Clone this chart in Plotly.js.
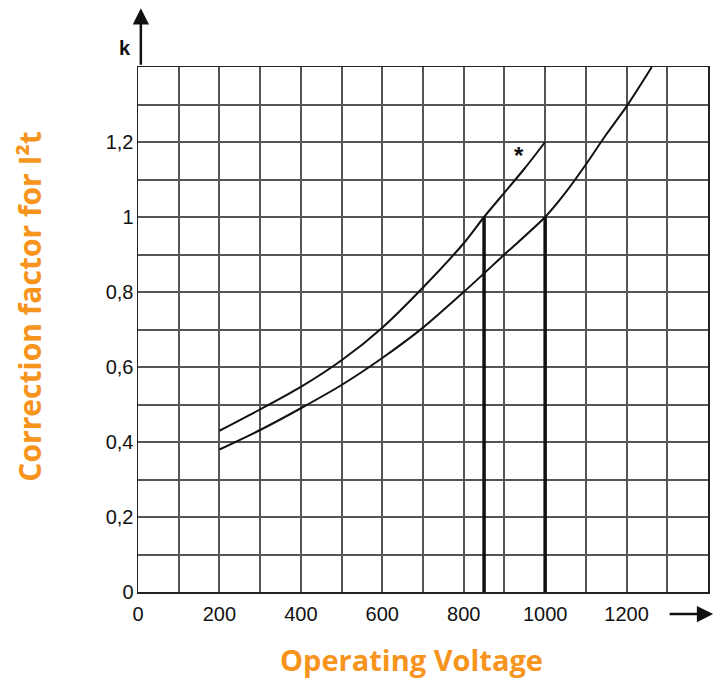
<!DOCTYPE html>
<html>
<head>
<meta charset="utf-8">
<script src="https://cdn.plot.ly/plotly-3.0.1.min.js"></script>
<style>html,body{margin:0;padding:0;background:#fff;}#chart{width:718px;height:679px;}</style>
</head>
<body>
<div id="chart"></div>
<script>
// Curve marked "*" (upper)
const voltageStar = [200, 300, 400, 500, 600, 700, 800, 850, 900, 950, 1000];
const kStar = [0.43, 0.487, 0.547, 0.618, 0.705, 0.812, 0.93, 1.0, 1.065, 1.13, 1.2];
// Lower curve
const voltageStd = [200, 300, 400, 500, 600, 700, 800, 900, 1000, 1050, 1100, 1150, 1200, 1262];
const kStd = [0.38, 0.432, 0.49, 0.552, 0.624, 0.705, 0.80, 0.90, 1.0, 1.065, 1.14, 1.22, 1.295, 1.40];
// Reference (thick) verticals at k = 1
const refVoltages = [850, 1000];
const refK = 1.0;

const xTickVals = [0,100,200,300,400,500,600,700,800,900,1000,1100,1200,1300];
const xTickText = ['0','','200','','400','','600','','800','','1000','','1200',''];
const yTickVals = [0,0.1,0.2,0.3,0.4,0.5,0.6,0.7,0.8,0.9,1.0,1.1,1.2,1.3];
const yTickText = ['0','','0,2','','0,4','','0,6','','0,8','','1','','1,2',''];

const xTitle = 'Operating Voltage';
const yTitle = 'Correction factor for I²t';

const traces = [
  {x: voltageStar, y: kStar, mode: 'lines', line: {color: '#111', width: 2, shape: 'spline', smoothing: 0.8}, hoverinfo: 'skip'},
  {x: voltageStd, y: kStd, mode: 'lines', line: {color: '#111', width: 2, shape: 'spline', smoothing: 0.8}, hoverinfo: 'skip'}
];
refVoltages.forEach(v => {
  traces.push({x: [v, v], y: [0, refK], mode: 'lines', line: {color: '#111', width: 3.5}, hoverinfo: 'skip'});
});

const tickFont = {family: 'Liberation Sans, Arial, sans-serif', size: 20, color: '#111'};
const titleFamily = '"Open Sans", "DejaVu Sans", sans-serif';
const titleFont = {family: titleFamily, size: 29, color: '#F7941D', weight: 'bold'};

const layout = {
  width: 718, height: 679,
  margin: {l: 138, r: 10, t: 67, b: 87},
  paper_bgcolor: '#fff', plot_bgcolor: '#fff',
  showlegend: false,
  xaxis: {
    range: [0, 1400], tickvals: xTickVals, ticktext: xTickText,
    showgrid: true, gridcolor: '#555', gridwidth: 2,
    showline: true, linecolor: '#222', linewidth: 1.5, mirror: true,
    zeroline: false, ticks: '', tickfont: tickFont, ticklabelstandoff: 3
  },
  yaxis: {
    range: [0, 1.4], tickvals: yTickVals, ticktext: yTickText,
    showgrid: true, gridcolor: '#555', gridwidth: 2,
    showline: true, linecolor: '#222', linewidth: 1.5, mirror: true,
    zeroline: false, ticks: '', tickfont: tickFont, ticklabelstandoff: -1
  },
  annotations: [
    {xref: 'paper', yref: 'paper', x: -0.19, y: 0.543, xanchor: 'center', yanchor: 'middle', textangle: -90,
     showarrow: false, text: yTitle, font: Object.assign({}, titleFont, {size: 30})},
    {xref: 'paper', yref: 'paper', x: 0.479, y: -0.1295, xanchor: 'center', yanchor: 'middle',
     showarrow: false, text: xTitle, font: titleFont},
    {xref: 'paper', yref: 'paper', x: 0.005, y: 1.112, ax: 0, ay: 58, showarrow: true,
     arrowhead: 2, arrowsize: 1.3, arrowwidth: 2.5, arrowcolor: '#111', text: ''},
    {xref: 'paper', yref: 'paper', x: -0.008, y: 1.036, xanchor: 'right', yanchor: 'middle', showarrow: false,
     text: '<b>k</b>', font: {family: 'Liberation Sans, Arial, sans-serif', size: 20, color: '#111'}},
    {xref: 'paper', yref: 'paper', x: 1.009, y: -0.042, ax: -45, ay: 0, showarrow: true,
     arrowhead: 2, arrowsize: 1.3, arrowwidth: 2.5, arrowcolor: '#111', text: ''},
    {xref: 'x', yref: 'y', x: 935, y: 1.165, showarrow: false, text: '<b>*</b>',
     font: {family: 'Liberation Sans, Arial, sans-serif', size: 24, color: '#111'}}
  ]
};

Plotly.newPlot('chart', traces, layout, {staticPlot: true, displayModeBar: false});
</script>
</body>
</html>
